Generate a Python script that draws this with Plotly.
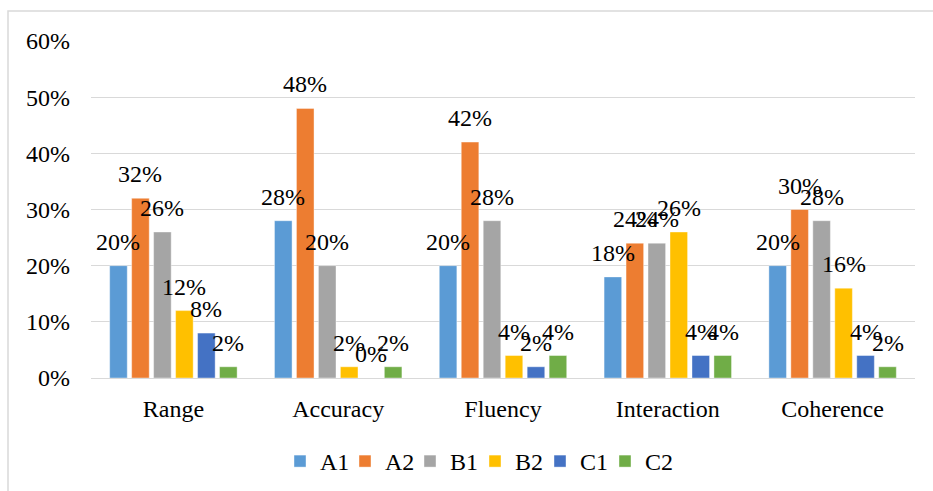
import plotly.graph_objects as go

# Skill criteria and the share of learners at each CEFR level (percent)
categories = ["Range", "Accuracy", "Fluency", "Interaction", "Coherence"]
levels = ["A1", "A2", "B1", "B2", "C1", "C2"]
a1 = [20, 28, 20, 18, 20]
a2 = [32, 48, 42, 24, 30]
b1 = [26, 20, 28, 24, 28]
b2 = [12, 2, 4, 26, 16]
c1 = [8, 0, 2, 4, 4]
c2 = [2, 2, 4, 4, 2]
series = [a1, a2, b1, b2, c1, c2]
colors = ["#5B9BD5", "#ED7D31", "#A5A5A5", "#FFC000", "#4472C4", "#70AD47"]
y_ticks = [0, 10, 20, 30, 40, 50, 60]

FONT = "Liberation Serif"
FS = 24
W, H = 933, 491
M = dict(l=91, r=18, t=41, b=113, autoexpand=False)
BARGAP, GROUPGAP = 0.2, 0.2

pw = W - M["l"] - M["r"]
ph = H - M["t"] - M["b"]
slot = pw / len(categories) * (1 - BARGAP) / len(levels)  # px per bar slot

fig = go.Figure()
for i, (name, vals, col) in enumerate(zip(levels, series, colors)):
    fig.add_trace(go.Bar(
        name=name, x=categories, y=vals,
        marker=dict(color=col, line=dict(width=0.8, color="rgba(255,255,255,0.5)")),
        cliponaxis=False,
        # compact legend entries; the last one keeps room for its text
        legendwidth=20 if i < len(levels) - 1 else 34,
    ))
    # value labels centred above each bar of this series
    for cat, v in zip(categories, vals):
        fig.add_annotation(
            x=cat, y=v, text=f"{v}%", showarrow=False,
            xanchor="center", yanchor="bottom",
            xshift=(i - (len(levels) - 1) / 2) * slot, yshift=9,
            font=dict(family=FONT, size=FS, color="#000000"),
        )

# light frame around the whole chart area
fig.add_shape(type="rect", xref="paper", yref="paper",
              x0=(8 - M["l"]) / pw, x1=(W + 4 - M["l"]) / pw,
              y0=-(H + 4 - M["t"] - ph) / ph, y1=(H - M["b"] - 11) / ph,
              line=dict(color="#D9D9D9", width=1.5), fillcolor="rgba(0,0,0,0)",
              layer="below")

fig.update_layout(
    width=W, height=H, margin=M,
    paper_bgcolor="white", plot_bgcolor="white",
    barmode="group", bargap=BARGAP, bargroupgap=GROUPGAP,
    font=dict(family=FONT, size=FS, color="#000000"),
    showlegend=True,
    legend=dict(orientation="h", x=(280 - M["l"]) / pw, xanchor="left",
                y=-0.181, yanchor="top",
                font=dict(family=FONT, size=FS), itemwidth=30),
    xaxis=dict(showgrid=False, showline=False, ticks="", ticklabelstandoff=14,
               tickfont=dict(family=FONT, size=FS)),
    yaxis=dict(range=[0, 60], tickvals=y_ticks, ticktext=[f"{t}%" for t in y_ticks],
               showgrid=True, gridcolor="#D9D9D9", gridwidth=1,
               zeroline=True, zerolinecolor="#D9D9D9", zerolinewidth=1,
               showline=False, ticks="", ticklabelstandoff=20,
               tickfont=dict(family=FONT, size=FS)),
)

fig.write_html("out.html")
